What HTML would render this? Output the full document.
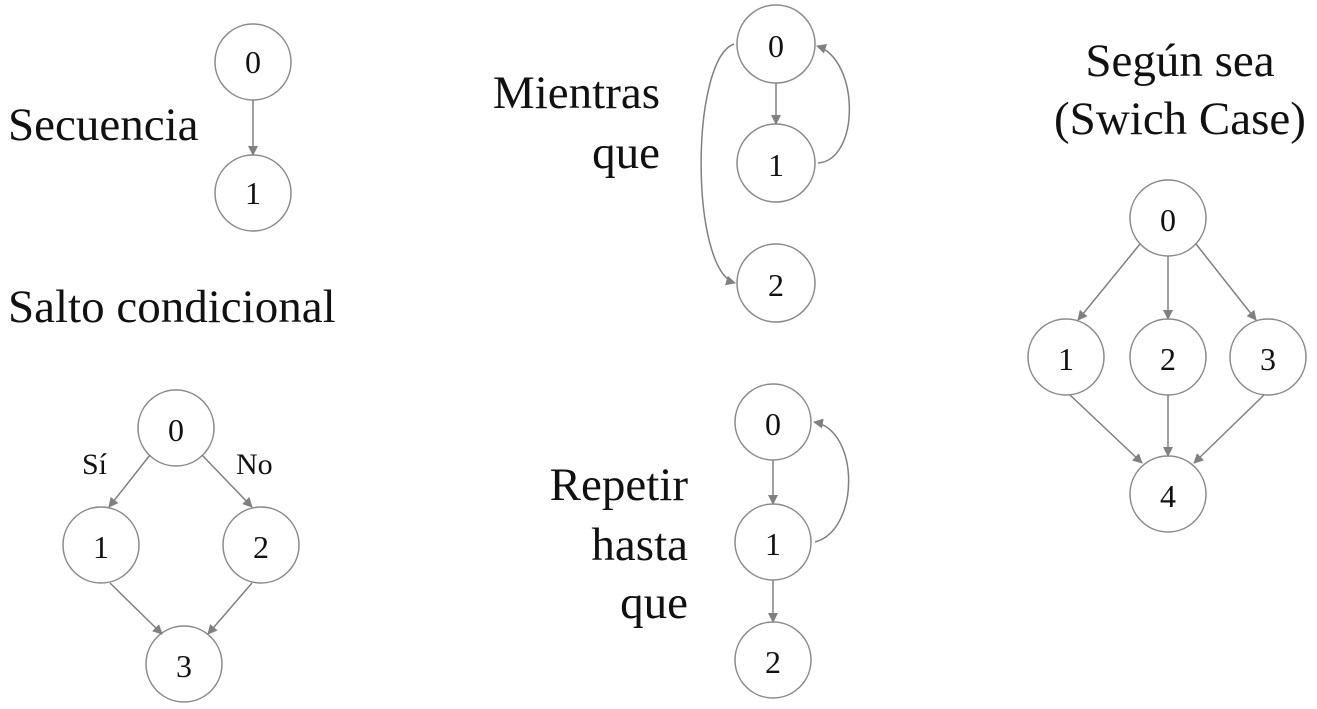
<!DOCTYPE html>
<html><head><meta charset="utf-8"><style>
html,body{margin:0;padding:0;background:#fff;}
svg{display:block}
text{font-family:"Liberation Serif",serif;fill:#111}
</style></head><body>
<svg width="1317" height="709" viewBox="0 0 1317 709" xmlns="http://www.w3.org/2000/svg">
<defs><marker id="a" markerWidth="10" markerHeight="10" refX="9" refY="5" orient="auto" markerUnits="userSpaceOnUse"><path d="M0,0 L10,5 L0,10 z" fill="#808080"/></marker></defs>
<g fill="#fff" stroke="#8a8a8a" stroke-width="1.5">
<circle cx="253" cy="62" r="38"/><circle cx="253" cy="193" r="38"/>
<circle cx="776" cy="44" r="39"/><circle cx="776" cy="163" r="39"/><circle cx="776" cy="283" r="39"/>
<circle cx="1168" cy="218" r="38"/><circle cx="1066" cy="357" r="38"/><circle cx="1168" cy="357" r="38"/><circle cx="1268" cy="357" r="38"/><circle cx="1168" cy="494" r="38"/>
<circle cx="176" cy="428" r="38"/><circle cx="101" cy="545" r="38"/><circle cx="261" cy="545" r="38"/><circle cx="184" cy="664" r="38"/>
<circle cx="773" cy="422" r="38"/><circle cx="773" cy="542" r="38"/><circle cx="773" cy="660" r="38"/>
</g>
<g fill="none" stroke="#808080" stroke-width="1.5" marker-end="url(#a)">
<line x1="253" y1="100" x2="253" y2="155"/>
<line x1="776" y1="83" x2="776" y2="124"/>
<path d="M734,44 C690,60 690,270 735,283"/>
<path d="M818,163 C860,160 860,60 817,46"/>
<line x1="1168" y1="256" x2="1168" y2="319"/>
<line x1="1140" y1="244" x2="1078" y2="320"/>
<line x1="1196" y1="244" x2="1256" y2="320"/>
<line x1="1168" y1="395" x2="1168" y2="456"/>
<line x1="1070" y1="395" x2="1142" y2="463"/>
<line x1="1264" y1="395" x2="1194" y2="463"/>
<line x1="150" y1="455" x2="109" y2="507"/>
<line x1="202" y1="455" x2="252" y2="507"/>
<line x1="110" y1="583" x2="162" y2="634"/>
<line x1="252" y1="583" x2="208" y2="634"/>
<line x1="773" y1="460" x2="773" y2="504"/>
<path d="M815,542 C860,530 860,430 814,422"/>
<line x1="773" y1="580" x2="773" y2="622"/>
</g>
<g font-size="32" text-anchor="middle" dominant-baseline="central">
<text x="253" y="62">0</text><text x="253" y="193">1</text>
<text x="776" y="46">0</text><text x="776" y="165">1</text><text x="776" y="285">2</text>
<text x="1168" y="220">0</text><text x="1066" y="359">1</text><text x="1168" y="359">2</text><text x="1268" y="359">3</text><text x="1168" y="496">4</text>
<text x="176" y="430">0</text><text x="101" y="547">1</text><text x="261" y="547">2</text><text x="184" y="666">3</text>
<text x="773" y="424">0</text><text x="773" y="544">1</text><text x="773" y="662">2</text>
</g>
<g font-size="47">
<text x="8" y="140">Secuencia</text>
<text x="8" y="322">Salto condicional</text>
<text x="660" y="108" text-anchor="end">Mientras</text>
<text x="660" y="168" text-anchor="end">que</text>
<text x="1180" y="76" text-anchor="middle">Según sea</text>
<text x="1180" y="134" text-anchor="middle">(Swich Case)</text>
<text x="688" y="500" text-anchor="end">Repetir</text>
<text x="688" y="560" text-anchor="end">hasta</text>
<text x="688" y="618" text-anchor="end">que</text>
</g>
<g font-size="30">
<text x="82" y="474">Sí</text>
<text x="236" y="474">No</text>
</g>
</svg>
</body></html>
